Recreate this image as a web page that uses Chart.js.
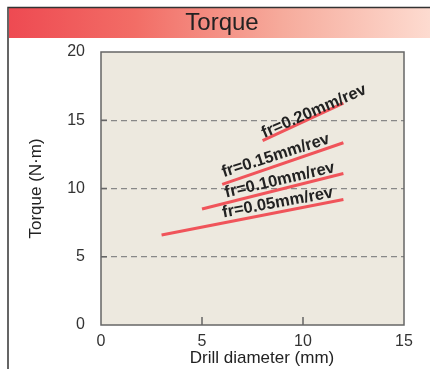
<!DOCTYPE html>
<html>
<head>
<meta charset="utf-8">
<script src="https://cdn.jsdelivr.net/npm/chart.js@4"></script>
<style>
  html, body { margin: 0; padding: 0; background: #fff; }
  #wrap { width: 430px; height: 369px; }
</style>
</head>
<body>
<div id="wrap"><canvas id="torqueChart" width="430" height="369"></canvas></div>
<script>
/* =========================
   DATA
========================= */
const feedLabels = ["fr=0.05mm/rev", "fr=0.10mm/rev", "fr=0.15mm/rev", "fr=0.20mm/rev"];
const diameterStart = [3, 5, 6, 8];
const diameterEnd = [12, 12, 12, 12];
const torqueStart = [6.6, 8.5, 10.3, 13.5];
const torqueEnd = [9.2, 11.1, 13.35, 16.25];

// where each feed label sits (data units)
const labelX = [8.75, 8.85, 8.65, 10.55];
const labelY = [8.95, 10.6, 12.4, 15.65];

const xTicks = [0, 5, 10, 15];
const yTicks = [0, 5, 10, 15, 20];

const FONT = "'Liberation Sans', Arial, sans-serif";

/* =========================
   PLUGIN: title bar, plot box, labels
========================= */
const decor = {
  id: "decor",
  beforeDraw(chart) {
    const ctx = chart.ctx;
    const a = chart.chartArea;
    ctx.save();
    // title bar
    const g = ctx.createLinearGradient(9, 0, 430, 0);
    g.addColorStop(0, "#ee4a52");
    g.addColorStop(0.3, "#f26d66");
    g.addColorStop(0.65, "#f6ab9c");
    g.addColorStop(1, "#fddbd0");
    ctx.fillStyle = g;
    ctx.fillRect(9, 8, 421, 30);
    ctx.strokeStyle = "#333";
    ctx.lineWidth = 1.5;
    ctx.beginPath();
    ctx.moveTo(8, 369);
    ctx.lineTo(8, 7.5);
    ctx.lineTo(430, 7.5);
    ctx.stroke();
    ctx.fillStyle = "#222";
    ctx.font = "24px " + FONT;
    ctx.textAlign = "center";
    ctx.textBaseline = "middle";
    ctx.fillText("Torque", 222, 23);
    // plot background
    ctx.fillStyle = "#ede9df";
    ctx.fillRect(a.left, a.top, a.right - a.left, a.bottom - a.top);
    ctx.restore();
  },
  beforeDatasetsDraw(chart) {
    const ctx = chart.ctx;
    const a = chart.chartArea;
    const xs = chart.scales.x, ys = chart.scales.y;
    ctx.save();
    ctx.strokeStyle = "#666";
    ctx.lineWidth = 1.5;
    ctx.strokeRect(a.left, a.top, a.right - a.left, a.bottom - a.top);
    ctx.beginPath();
    xTicks.slice(1, -1).forEach(v => {
      const px = xs.getPixelForValue(v);
      ctx.moveTo(px, a.bottom);
      ctx.lineTo(px, a.bottom - 8);
    });
    yTicks.slice(1, -1).forEach(v => {
      const py = ys.getPixelForValue(v);
      ctx.moveTo(a.left, py);
      ctx.lineTo(a.left + 6, py);
    });
    ctx.stroke();
    // x axis title
    ctx.fillStyle = "#222";
    ctx.font = "17px " + FONT;
    ctx.textAlign = "center";
    ctx.textBaseline = "middle";
    ctx.fillText("Drill diameter (mm)", 262, 358);
    ctx.restore();
  },
  afterDatasetsDraw(chart) {
    const ctx = chart.ctx;
    const xs = chart.scales.x, ys = chart.scales.y;
    ctx.save();
    ctx.fillStyle = "#222";
    ctx.font = "bold 16.5px " + FONT;
    ctx.textAlign = "center";
    ctx.textBaseline = "middle";
    feedLabels.forEach((t, i) => {
      const dx = xs.getPixelForValue(diameterEnd[i]) - xs.getPixelForValue(diameterStart[i]);
      const dy = ys.getPixelForValue(torqueEnd[i]) - ys.getPixelForValue(torqueStart[i]);
      ctx.save();
      ctx.translate(xs.getPixelForValue(labelX[i]), ys.getPixelForValue(labelY[i]));
      ctx.rotate(Math.atan2(dy, dx) * 0.94);
      ctx.fillText(t, 0, 0);
      ctx.restore();
    });
    ctx.restore();
  }
};

/* =========================
   CHART
========================= */
new Chart(document.getElementById("torqueChart"), {
  type: "scatter",
  data: {
    datasets: feedLabels.map((name, i) => ({
      label: name,
      data: [
        { x: diameterStart[i], y: torqueStart[i] },
        { x: diameterEnd[i], y: torqueEnd[i] }
      ],
      showLine: true,
      borderColor: "#f0545a",
      borderWidth: 3,
      pointRadius: 0,
      borderCapStyle: "butt"
    }))
  },
  options: {
    responsive: false,
    animation: false,
    layout: { padding: { left: 0, top: 52, right: 26, bottom: 0 } },
    plugins: {
      legend: { display: false },
      tooltip: { enabled: false }
    },
    scales: {
      x: {
        type: "linear",
        min: 0,
        max: 15,
        afterFit(s) { s.height = 44; },
        afterBuildTicks(s) { s.ticks = xTicks.map(v => ({ value: v })); },
        grid: { display: false, drawTicks: false },
        border: { display: false },
        ticks: { color: "#333", padding: 7, font: { size: 16, family: FONT } }
      },
      y: {
        min: 0,
        max: 20,
        afterFit(s) { s.width = 101; },
        afterBuildTicks(s) { s.ticks = yTicks.map(v => ({ value: v })); },
        grid: {
          drawTicks: false,
          lineWidth: 1.2,
          color: c => (c.tick.value > 0 && c.tick.value < 20) ? "#888" : "transparent"
        },
        border: { display: false, dash: [6, 4] },
        ticks: { color: "#333", padding: 16, font: { size: 16, family: FONT } },
        title: {
          display: true,
          text: "Torque (N·m)",
          color: "#222",
          font: { size: 17, family: FONT },
          padding: { top: 26, bottom: 0 }
        }
      }
    }
  },
  plugins: [decor]
});
</script>
</body>
</html>
